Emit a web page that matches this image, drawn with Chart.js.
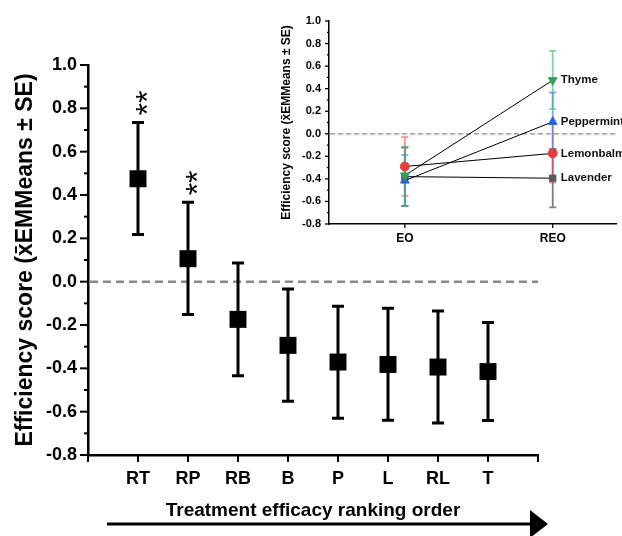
<!DOCTYPE html>
<html><head><meta charset="utf-8">
<script src="https://cdn.jsdelivr.net/npm/chart.js@4/dist/chart.umd.min.js"></script>
<style>
html,body{margin:0;padding:0;background:#fff;}
#wrap{position:relative;width:622px;height:536px;overflow:hidden;background:#fff;}
.box{position:absolute;}
</style></head><body>
<div id="wrap">
  <div class="box" style="left:0;top:0;width:622px;height:536px"><canvas id="main" width="622" height="536"></canvas></div>
  <div class="box" style="left:255px;top:0;width:367px;height:250px"><canvas id="inset" width="367" height="250"></canvas></div>
</div>
<script>
// ---------- main chart data ----------
const categories = ['RT','RP','RB','B','P','L','RL','T'];
const means  = [0.475, 0.106, -0.174, -0.294, -0.371, -0.382, -0.394, -0.415];
const upper  = [0.735, 0.366,  0.086, -0.034, -0.114, -0.123, -0.135, -0.188];
const lower  = [0.218,-0.152, -0.434, -0.552, -0.630, -0.640, -0.652, -0.641];
const significance = ['**','**','','','','','',''];
const yTickValues = [-0.8,-0.7,-0.6,-0.5,-0.4,-0.3,-0.2,-0.1,0,0.1,0.2,0.3,0.4,0.5,0.6,0.7,0.8,0.9,1.0];
const yTitle = 'Efficiency score (x\u0304EMMeans \u00B1 SE)';
const xTitle = 'Treatment efficacy ranking order';

// ---------- inset data ----------
const insetGroups = ['EO','REO'];
const insetSeries = ['Thyme','Peppermint','Lemonbalm','Lavender'];
const thymeMean       = [-0.370, 0.475];
const thymeUpper      = [-0.115, 0.735];
const thymeLower      = [-0.640, 0.218];
const peppermintMean  = [-0.415, 0.106];
const peppermintUpper = [-0.190, 0.366];
const peppermintLower = [-0.641,-0.145];
const lemonbalmMean   = [-0.290,-0.174];
const lemonbalmUpper  = [-0.030, 0.086];
const lemonbalmLower  = [-0.550,-0.434];
const lavenderMean    = [-0.380,-0.394];
const lavenderUpper   = [-0.123,-0.135];
const lavenderLower   = [-0.640,-0.652];

const FONT = 'Liberation Sans, Arial, sans-serif';
const fmt = v => (Math.abs(v) < 1e-9 ? '0.0' : v.toFixed(1));
const isMajor = v => Math.round(v * 10) % 2 === 0;

// ---------- main chart ----------
const mainDeco = {
  id: 'mainDeco',
  beforeDatasetsDraw(chart) {
    const ctx = chart.ctx, xs = chart.scales.x, ys = chart.scales.y, a = chart.chartArea;
    ctx.save();
    const y0 = ys.getPixelForValue(0);
    ctx.strokeStyle = '#8a8a8a'; ctx.lineWidth = 2.5; ctx.setLineDash([8, 5]);
    ctx.beginPath(); ctx.moveTo(a.left + 2, y0); ctx.lineTo(a.right, y0); ctx.stroke();
    ctx.setLineDash([]);
    ctx.strokeStyle = '#000'; ctx.lineWidth = 3;
    categories.forEach((c, i) => {
      const px = xs.getPixelForValue(i + 1);
      const t = ys.getPixelForValue(upper[i]), b = ys.getPixelForValue(lower[i]);
      ctx.beginPath();
      ctx.moveTo(px, t); ctx.lineTo(px, b);
      ctx.moveTo(px - 6, t); ctx.lineTo(px + 6, t);
      ctx.moveTo(px - 6, b); ctx.lineTo(px + 6, b);
      ctx.stroke();
    });
    ctx.restore();
  },
  afterDraw(chart) {
    const ctx = chart.ctx, xs = chart.scales.x, ys = chart.scales.y, a = chart.chartArea;
    ctx.save();
    ctx.strokeStyle = '#000'; ctx.lineWidth = 2;
    // y ticks (major + minor)
    yTickValues.forEach(v => {
      const py = ys.getPixelForValue(v);
      const len = isMajor(v) ? 8 : 4;
      ctx.beginPath(); ctx.moveTo(a.left - len, py); ctx.lineTo(a.left, py); ctx.stroke();
    });
    // x ticks
    for (let v = 0; v <= categories.length + 1; v++) {
      const px = xs.getPixelForValue(v);
      ctx.beginPath(); ctx.moveTo(px, a.bottom); ctx.lineTo(px, a.bottom + 7); ctx.stroke();
    }
    // significance asterisks (rotated)
    ctx.fillStyle = '#000';
    ctx.font = '32px ' + FONT;
    ctx.textAlign = 'left'; ctx.textBaseline = 'alphabetic';
    categories.forEach((c, i) => {
      if (!significance[i]) return;
      const m = ctx.measureText(significance[i]);
      const c0 = (m.actualBoundingBoxAscent - m.actualBoundingBoxDescent) / 2;
      const px = xs.getPixelForValue(i + 1) + 4;
      const t = ys.getPixelForValue(upper[i]) - 7;
      ctx.save();
      ctx.translate(px + c0, t);
      ctx.rotate(-Math.PI / 2);
      ctx.fillText(significance[i], 0, 0);
      ctx.restore();
    });
    // arrow under the x axis title
    const ay = 524;
    ctx.lineWidth = 3;
    ctx.beginPath(); ctx.moveTo(a.left + 19, ay); ctx.lineTo(a.right - 6, ay); ctx.stroke();
    ctx.beginPath();
    ctx.moveTo(a.right - 8, ay - 14); ctx.lineTo(a.right + 10, ay); ctx.lineTo(a.right - 8, ay + 14);
    ctx.closePath(); ctx.fill();
    ctx.restore();
  }
};

new Chart(document.getElementById('main'), {
  type: 'scatter',
  data: {
    datasets: [{
      data: categories.map((c, i) => ({ x: i + 1, y: means[i] })),
      pointStyle: 'rect', radius: 12, backgroundColor: '#000', borderWidth: 0, hoverRadius: 12
    }]
  },
  options: {
    responsive: false, animation: false, events: [],
    layout: { padding: { left: 0, right: 84, top: 65, bottom: 0 } },
    plugins: { legend: { display: false }, tooltip: { enabled: false } },
    scales: {
      x: {
        type: 'linear', min: 0, max: categories.length + 1,
        afterFit: s => { s.height = 81; },
        afterBuildTicks: s => { s.ticks = Array.from({ length: categories.length + 2 }, (_, i) => ({ value: i })); },
        grid: { display: true, drawOnChartArea: false, drawTicks: true, tickLength: 7, tickColor: 'rgba(0,0,0,0)' },
        border: { display: true, color: '#000', width: 2.5 },
        ticks: { autoSkip: false, maxRotation: 0, padding: 6, color: '#000',
          font: { family: FONT, size: 18, weight: 'bold' },
          callback: v => categories[v - 1] || '' },
        title: { display: true, text: xTitle, color: '#000',
          font: { family: FONT, size: 19, weight: 'bold' }, padding: { top: 0, bottom: 14 } }
      },
      y: {
        min: -0.8, max: 1.0,
        afterFit: s => { s.width = 88; },
        afterBuildTicks: s => { s.ticks = yTickValues.map(v => ({ value: v })); },
        grid: { display: true, drawOnChartArea: false, drawTicks: true, tickLength: 8, tickColor: 'rgba(0,0,0,0)' },
        border: { display: true, color: '#000', width: 2.5 },
        ticks: { autoSkip: false, padding: 3, color: '#000',
          font: { family: FONT, size: 18, weight: 'bold' },
          callback: v => (isMajor(v) ? fmt(v) : '') },
        title: { display: true, text: yTitle, color: '#000',
          font: { family: FONT, size: 23, weight: 'bold' }, padding: { top: 12, bottom: 0 } }
      }
    }
  },
  plugins: [mainDeco]
});

// ---------- inset chart ----------
const seriesMeans  = [thymeMean, peppermintMean, lemonbalmMean, lavenderMean];
const seriesUpper  = [thymeUpper, peppermintUpper, lemonbalmUpper, lavenderUpper];
const seriesLower  = [thymeLower, peppermintLower, lemonbalmLower, lavenderLower];
const markerColors = ['#2f9e5e', '#2463d8', '#e53e3e', '#5a5a5a'];
const errorColors  = ['rgba(72,182,120,0.65)', 'rgba(60,120,235,0.65)', 'rgba(235,80,80,0.6)', 'rgba(70,70,70,0.7)'];
const markerStyles = ['triangle', 'triangle', 'circle', 'rect'];
const markerRot    = [180, 0, 0, 0];
const markerRadius = [5, 5, 4.5, 4.5];
const drawOrder    = [3, 2, 1, 0]; // lavender, lemonbalm, peppermint, thyme

const insetDeco = {
  id: 'insetDeco',
  beforeDatasetsDraw(chart) {
    const ctx = chart.ctx, xs = chart.scales.x, ys = chart.scales.y, a = chart.chartArea;
    ctx.save();
    const y0 = ys.getPixelForValue(0);
    ctx.strokeStyle = '#8a8a8a'; ctx.lineWidth = 1.3; ctx.setLineDash([5, 3]);
    ctx.beginPath(); ctx.moveTo(a.left + 1, y0); ctx.lineTo(a.right, y0); ctx.stroke();
    ctx.setLineDash([]);
    ctx.lineWidth = 1.8;
    drawOrder.forEach(s => {
      ctx.strokeStyle = errorColors[s];
      insetGroups.forEach((g, i) => {
        const px = xs.getPixelForValue(i + 1);
        const t = ys.getPixelForValue(seriesUpper[s][i]), b = ys.getPixelForValue(seriesLower[s][i]);
        ctx.beginPath();
        ctx.moveTo(px, t); ctx.lineTo(px, b);
        ctx.moveTo(px - 3.5, t); ctx.lineTo(px + 3.5, t);
        ctx.moveTo(px - 3.5, b); ctx.lineTo(px + 3.5, b);
        ctx.stroke();
      });
    });
    ctx.restore();
  },
  afterDraw(chart) {
    const ctx = chart.ctx, xs = chart.scales.x, ys = chart.scales.y, a = chart.chartArea;
    ctx.save();
    ctx.strokeStyle = '#000'; ctx.lineWidth = 1.3;
    yTickValues.forEach(v => {
      const py = ys.getPixelForValue(v);
      const len = isMajor(v) ? 4 : 2;
      ctx.beginPath(); ctx.moveTo(a.left - len, py); ctx.lineTo(a.left, py); ctx.stroke();
    });
    insetGroups.forEach((g, i) => {
      const px = xs.getPixelForValue(i + 1);
      ctx.beginPath(); ctx.moveTo(px, a.bottom); ctx.lineTo(px, a.bottom + 4); ctx.stroke();
    });
    // series names next to the REO points
    ctx.fillStyle = '#111';
    ctx.font = 'bold 11.5px ' + FONT;
    ctx.textAlign = 'left'; ctx.textBaseline = 'middle';
    const last = insetGroups.length - 1;
    insetSeries.forEach((name, s) => {
      const px = xs.getPixelForValue(last + 1) + 8;
      const py = ys.getPixelForValue(seriesMeans[s][last]);
      ctx.fillText(name, px, py);
    });
    ctx.restore();
  }
};

new Chart(document.getElementById('inset'), {
  type: 'line',
  data: {
    datasets: insetSeries.map((name, s) => ({
      label: name,
      data: insetGroups.map((g, i) => ({ x: i + 1, y: seriesMeans[s][i] })),
      borderColor: '#000', borderWidth: 1, showLine: true, fill: false,
      pointStyle: markerStyles[s], rotation: markerRot[s], radius: markerRadius[s],
      pointBackgroundColor: markerColors[s], pointBorderColor: markerColors[s], pointBorderWidth: 1,
      order: s
    }))
  },
  options: {
    responsive: false, animation: false, events: [],
    layout: { padding: { left: 0, right: 0, top: 21, bottom: 0 } },
    plugins: { legend: { display: false }, tooltip: { enabled: false } },
    scales: {
      x: {
        type: 'linear', min: 0.487, max: 2.428,
        afterFit: s => { s.height = 26; },
        afterBuildTicks: s => { s.ticks = insetGroups.map((g, i) => ({ value: i + 1 })); },
        grid: { display: true, drawOnChartArea: false, drawTicks: true, tickLength: 4, tickColor: 'rgba(0,0,0,0)' },
        border: { display: true, color: '#000', width: 1.5 },
        ticks: { autoSkip: false, maxRotation: 0, padding: 3, color: '#000',
          font: { family: FONT, size: 12, weight: 'bold' },
          callback: v => insetGroups[v - 1] || '' }
      },
      y: {
        min: -0.8, max: 1.0,
        afterFit: s => { s.width = 74; },
        afterBuildTicks: s => { s.ticks = yTickValues.map(v => ({ value: v })); },
        grid: { display: true, drawOnChartArea: false, drawTicks: true, tickLength: 4, tickColor: 'rgba(0,0,0,0)' },
        border: { display: true, color: '#000', width: 1.5 },
        ticks: { autoSkip: false, padding: 4, color: '#000',
          font: { family: FONT, size: 11, weight: 'bold' },
          callback: v => (isMajor(v) ? fmt(v) : '') },
        title: { display: true, text: yTitle, color: '#000',
          font: { family: FONT, size: 12, weight: 'bold' }, padding: { top: 24, bottom: 0 } }
      }
    }
  },
  plugins: [insetDeco]
});
</script>
</body></html>
